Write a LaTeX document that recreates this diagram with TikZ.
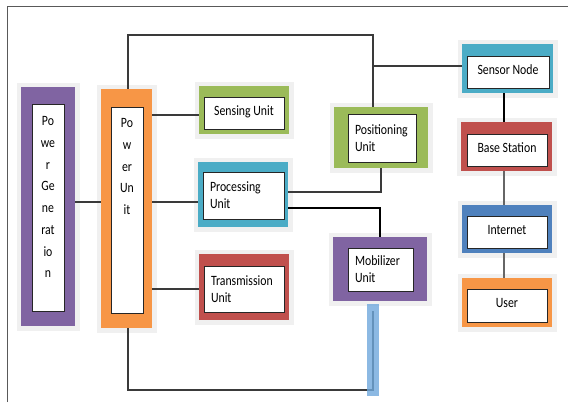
\documentclass[tikz,border=0pt]{standalone}
\usepackage{fontspec}
\setmainfont{Carlito}
\usepackage{graphicx}
\definecolor{cpurple}{HTML}{8064A2}
\definecolor{corange}{HTML}{F79646}
\definecolor{cgreen}{HTML}{9BBB59}
\definecolor{cteal}{HTML}{4BACC6}
\definecolor{cred}{HTML}{C0504D}
\definecolor{cblue}{HTML}{4F81BD}
\definecolor{cbar}{HTML}{6FA8DC}
\definecolor{halo}{HTML}{F0F0F0}
\definecolor{lineg}{HTML}{3A3A3A}
\newcommand\sx[1]{\scalebox{0.83}[1]{#1}}
\begin{document}
\begin{tikzpicture}[x=1pt,y=-1pt,
  outerbox/.style n args={3}{fill=#1, draw=none, inner sep=0pt,
     minimum width=#2, minimum height=#3, preaction={draw=halo, line width=9pt}},
  innerbox/.style n args={2}{fill=white, draw=black!85, line width=0.8pt, inner sep=0pt,
     minimum width=#1, minimum height=#2, text height=9pt, text depth=5pt,
     font=\fontsize{14.2}{17}\selectfont},
  innertxt/.style n args={2}{fill=white, draw=black!85, line width=0.8pt, inner ysep=0pt,
     inner xsep=7pt, text width=#1, minimum height=#2, align=left,
     font=\fontsize{14.2}{16.8}\selectfont},
  coltxt/.style={inner sep=0pt, font=\fontsize{14.2}{21.7}\selectfont},
  conn/.style={draw=lineg, line width=1.1pt},
  connthick/.style={draw=black, line width=1.8pt},
  conngray/.style={draw=black!60, line width=1.1pt},
  frame/.style={draw=black!65, line width=1pt}
]
\useasboundingbox (0,0) rectangle (568,402);
\draw[frame] (7,402) -- (7,6) -- (568,6);

% boxes
\node[outerbox={cpurple}{54}{239}] (pg) at (48,206.5) {};
\node[innerbox={32}{207}] (ipg) at (48,207.5) {};
\node[coltxt, anchor=north] (tpg) at (48,110.5)
  {\sx{\begin{tabular}{@{}c@{}}Po\\we\\r\\Ge\\ne\\rat\\io\\n\end{tabular}}};

\node[outerbox={corange}{51}{239}] (pu) at (126.5,208.5) {};
\node[innerbox={32}{206}] (ipu) at (127,210) {};
\node[coltxt, anchor=north] (tpu) at (127,112.5)
  {\sx{\begin{tabular}{@{}c@{}}Po\\w\\er\\Un\\it\end{tabular}}};

\node[outerbox={cgreen}{90}{48}] (su) at (244,110) {};
\node[innerbox={80}{32}] (isu) at (244,113) {\sx{Sensing Unit}};

\node[outerbox={cteal}{90}{65}] (pr) at (243,194.5) {};
\node[innertxt={67}{47}] (ipr) at (243.5,195.5) {\sx{Processing}\\\sx{Unit}};

\node[outerbox={cred}{90}{66}] (tu) at (244,287) {};
\node[innertxt={66}{46}] (itu) at (244,289) {\sx{Transmission}\\\sx{Unit}};

\node[outerbox={cgreen}{94}{61}] (po) at (381,137.5) {};
\node[innertxt={54}{48}] (ipo) at (382,138) {\sx{Positioning}\\\sx{Unit}};

\node[outerbox={cpurple}{94}{64}] (mo) at (380,269) {};
\node[innertxt={51}{43}] (imo) at (380.5,269.5) {\sx{Mobilizer}\\\sx{Unit}};

\node[outerbox={cteal}{91}{49}] (sn) at (507.5,68.5) {};
\node[innerbox={82}{32}] (isn) at (508,72) {\sx{Sensor Node}};

\node[outerbox={cred}{91}{49}] (bs) at (506.5,146.5) {};
\node[innerbox={80}{32}] (ibs) at (507,150) {\sx{Base Station}};

\node[outerbox={cblue}{90}{48}] (in) at (507,229) {};
\node[innerbox={80}{32}] (iin) at (507,232) {\sx{Internet}};

\node[outerbox={corange}{90}{49}] (us) at (507,302.5) {};
\node[innerbox={80}{33}] (ius) at (507,305.5) {\sx{User}};

% connectors
\coordinate (tl) at (128,35);
\coordinate (tr) at (373,35);
\coordinate (sj) at (373,66);
\draw[conn] (pu.north -| tl) -- (tl) -- (tr) -- (tr |- po.north);
\draw[conn] (sj) -- (sj -| sn.west);
\draw[conn] (pg.east |- 0,202) -- (pu.west |- 0,202);
\draw[conn] (pu.east |- 0,115) -- (su.west |- 0,115);
\draw[conn] (pu.east |- 0,202) -- (pr.west |- 0,202);
\draw[conn] (pu.east |- 0,289) -- (tu.west |- 0,289);
\draw[conn] (pr.east |- 0,192) -| (po.south);
\draw[connthick] (pr.east |- 0,208) -| (mo.north);
\coordinate (vx) at (504,0);
\draw[connthick] (sn.south -| vx) -- (bs.north -| vx);
\draw[conngray] (bs.south -| vx) -- (in.north -| vx);
\draw[conngray] (in.south -| vx) -- (us.north -| vx);
\coordinate (bl) at (128,390);
\coordinate (br) at (373,390);
\coordinate (bt) at (373,311);
\draw[conn] (pu.south -| bl) -- (bl) -- (br) -- (bt);
\node[fill=cbar, fill opacity=0.8, inner sep=0pt, minimum width=12pt, minimum height=92pt] (bar) at (373,350) {};
\end{tikzpicture}
\end{document}
